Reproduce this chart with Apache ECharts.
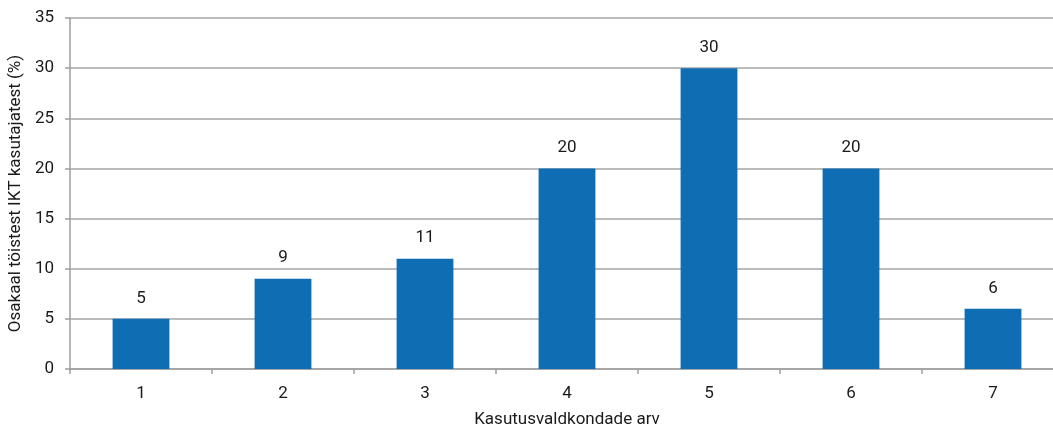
<!DOCTYPE html>
<html><head><meta charset="utf-8">
<script src="https://cdn.jsdelivr.net/npm/echarts@6/dist/echarts.min.js"></script>
<style>html,body{margin:0;padding:0;background:#fff}#c{width:1053px;height:431px}</style>
</head><body><div id="c"></div>
<script>
const categories = ['1','2','3','4','5','6','7'];
const values = [5, 9, 11, 20, 30, 20, 6];
const yTicks = [0, 5, 10, 15, 20, 25, 30, 35];
const yAxisTitle = 'Osakaal töistest IKT kasutajatest (%)';
const xAxisTitle = 'Kasutusvaldkondade arv';

const chart = echarts.init(document.getElementById('c'), null, {renderer:'canvas'});
const font = 'Roboto';
chart.setOption({
  animation:false,
  grid:{left:70, right:-11, top:18, bottom:62, containLabel:false, outerBoundsMode:'none'},
  xAxis:{
    type:'category', data:categories,
    name:xAxisTitle, nameLocation:'middle', nameGap:42,
    nameTextStyle:{fontFamily:font, fontSize:17, color:'#1a1a1a'},
    axisLine:{lineStyle:{color:'#9e9e9e', width:1.5}},
    axisTick:{show:true, length:5, lineStyle:{color:'#9e9e9e', width:1.5}},
    axisLabel:{fontFamily:font, fontSize:17, color:'#1a1a1a', margin:16}
  },
  yAxis:{
    type:'value', min:yTicks[0], max:yTicks[yTicks.length-1], interval:5,
    name:yAxisTitle, nameLocation:'middle', nameGap:44,
    nameTextStyle:{fontFamily:font, fontSize:17, color:'#1a1a1a'},
    axisLine:{show:true, lineStyle:{color:'#9e9e9e', width:1.5}},
    axisTick:{show:true, length:5, lineStyle:{color:'#9e9e9e', width:1.5}},
    splitLine:{lineStyle:{color:'#a6a6a6', width:1.5}},
    axisLabel:{fontFamily:font, fontSize:17, color:'#1a1a1a', margin:16}
  },
  series:[{
    type:'bar', data:values, barWidth:'40%',
    itemStyle:{color:'#0f6db4'},
    label:{show:true, position:'top', distance:12, fontFamily:font, fontSize:17, color:'#1a1a1a'}
  }]
});
</script></body></html>
